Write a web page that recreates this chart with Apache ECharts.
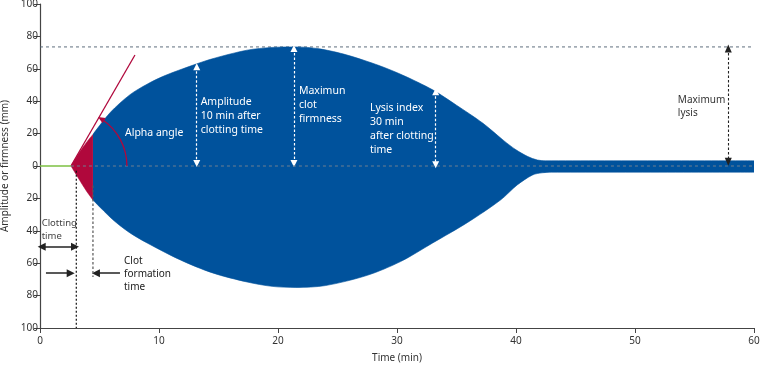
<!DOCTYPE html>
<html>
<head>
<meta charset="utf-8">
<script src="https://cdn.jsdelivr.net/npm/echarts@6/dist/echarts.min.js"></script>
<style>html,body{margin:0;padding:0;background:#fff}#c{width:760px;height:365px}</style>
</head>
<body>
<div id="c"></div>
<script>
// ---- data ----
const xTicks = [0, 10, 20, 30, 40, 50, 60];
const yTicks = [-100, -80, -60, -40, -20, 0, 20, 40, 60, 80, 100];
const baseline = [[0, 0], [2.6, 0]];
const redUpper = [[2.6, 0], [3.1, 6], [3.6, 11.5], [4.0, 15.5], [4.45, 19.5]];
const redLower = [[2.6, 0], [3.1, -6], [3.6, -12], [4.0, -16.5], [4.45, -21]];
const upperCurve = [[4.45, 19.5], [5.9, 33], [7.56, 44], [9, 50.5], [10.4, 55.5], [12, 60], [14.4, 66], [17.4, 71.5], [19.5, 73.2], [21.5, 73.5], [23.5, 72.3], [25.8, 68.5], [28.5, 62], [30.5, 56], [33, 47], [35, 37.5], [37.2, 26.5], [39, 15.5], [40, 10], [41, 5.8], [41.8, 3.7], [42.5, 3.2], [60, 3.2]];
const lowerCurve = [[4.45, -21], [6.1, -33], [7.5, -41], [9, -47.5], [11.8, -58], [14.5, -66], [17.4, -71.6], [19.5, -74.3], [21.5, -75], [24, -73.8], [27.5, -67.5], [30.3, -59], [33, -47.5], [35.9, -35], [38.7, -21], [40.1, -11.7], [41.4, -5.5], [42.2, -4.2], [43, -3.8], [60, -3.8]];
const alphaLine = [[2.6, 0], [7.98, 68.5]];
const alphaAngleDeg = 59;
const maxLevel = 73.5;
const maxLine = [[0, maxLevel], [60, maxLevel]];
const zeroLine = [[2.6, 0], [60, 0]];
const clotTimeLine = [[3.05, -3], [3.05, -100]];
const cftLine = [[4.45, -12], [4.45, -68.5]];
// white dashed double arrows: [x, yTop, yBottom]
const whiteArrows = [[13.17, 61.3, 1.6], [21.34, 72.6, 1.6], [33.25, 45.9, 0.8]];
const lysisArrow = [57.84, 72.6, 2.7];
const clottingArrow = [[0.14, -49.8], [2.94, -49.8]];
const rightArrow = [[0.5, -66.2], [2.58, -66.2]];
const leftArrow = [[6.72, -66.2], [4.7, -66.2]];
// text annotations
const labelText = ['Alpha angle', 'Amplitude\n10 min after\nclotting time', 'Maximun\nclot\nfirmness', 'Lysis index\n30 min\nafter clotting\ntime', 'Maximum\nlysis', 'Clot\nformation\ntime', 'Clotting\ntime'];
const labelX = [7.14, 13.5, 21.76, 27.73, 53.6, 7.06, 0.14];
const labelY = [20.4, 31.1, 37.7, 22.7, 36.6, -66.7, -39.3];
const labelColor = ['#ffffff', '#ffffff', '#ffffff', '#ffffff', '#333333', '#222222', '#444444'];
const labelSize = [10.5, 10.5, 10.5, 10.5, 10, 10, 9.5];

const BLUE = '#00529c';
const RED = '#b0083c';
const FONT = "'Noto Sans', sans-serif";

const chart = echarts.init(document.getElementById('c'), null, {renderer: 'canvas'});

function lineSeries(data, color, width, type, z, extra) {
  return Object.assign({
    type: 'line', data: data, symbol: 'none', silent: true, z: z,
    lineStyle: {color: color, width: width, type: type}
  }, extra || {});
}

function areaSeries(data, color, z) {
  return {
    type: 'line', data: data, symbol: 'none', silent: true, z: z,
    smooth: 0.3,
    lineStyle: {width: 0.6, color: color},
    areaStyle: {color: color, opacity: 1}
  };
}

const mlData = [];
whiteArrows.forEach(a => {
  mlData.push([
    {coord: [a[0], a[1]], symbol: 'triangle', symbolSize: [7, 7], lineStyle: {color: '#fff', width: 1.2, type: [2.5, 2]}, itemStyle: {color: '#fff'}},
    {coord: [a[0], a[2]], symbol: 'triangle', symbolSize: [7, 7]}
  ]);
});
mlData.push([
  {coord: [lysisArrow[0], lysisArrow[1]], symbol: 'triangle', symbolSize: [7, 8], lineStyle: {color: '#222', width: 1.1, type: [2.5, 2]}, itemStyle: {color: '#222'}},
  {coord: [lysisArrow[0], lysisArrow[2]], symbol: 'triangle', symbolSize: [7, 8]}
]);
mlData.push([
  {coord: clottingArrow[0], symbol: 'triangle', symbolSize: [8, 8], lineStyle: {color: '#222', width: 1.5, type: 'solid'}, itemStyle: {color: '#222'}},
  {coord: clottingArrow[1], symbol: 'triangle', symbolSize: [8, 8]}
]);
mlData.push([
  {coord: rightArrow[0], symbol: 'none', lineStyle: {color: '#222', width: 1.5, type: 'solid'}, itemStyle: {color: '#222'}},
  {coord: rightArrow[1], symbol: 'triangle', symbolSize: [8, 8]}
]);
mlData.push([
  {coord: leftArrow[0], symbol: 'none', lineStyle: {color: '#222', width: 1.5, type: 'solid'}, itemStyle: {color: '#222'}},
  {coord: leftArrow[1], symbol: 'triangle', symbolSize: [8, 8]}
]);

const option = {
  animation: false,
  grid: {left: 40, right: 6, top: 4, bottom: 37, containLabel: false, outerBoundsMode: 'none'},
  xAxis: {
    type: 'value', min: xTicks[0], max: xTicks[xTicks.length - 1], interval: 10,
    name: 'Time (min)', nameLocation: 'middle', nameGap: 25,
    nameTextStyle: {fontFamily: FONT, fontSize: 10, color: '#333'},
    axisLine: {onZero: false, lineStyle: {color: '#444', width: 1.2}},
    axisTick: {show: true, length: 5, lineStyle: {color: '#444'}},
    axisLabel: {fontFamily: FONT, fontSize: 10, color: '#333', margin: 8},
    splitLine: {show: false}
  },
  yAxis: {
    type: 'value', min: yTicks[0], max: yTicks[yTicks.length - 1], interval: 20,
    name: 'Amplitude or firmness (mm)', nameLocation: 'middle', nameGap: 26, nameRotate: 90,
    nameTextStyle: {fontFamily: FONT, fontSize: 10, color: '#333'},
    axisLine: {show: true, lineStyle: {color: '#444', width: 1.2}},
    axisTick: {show: true, length: 6, lineStyle: {color: '#444'}},
    axisLabel: {fontFamily: FONT, fontSize: 10, color: '#333', margin: 2, formatter: v => String(Math.abs(v))},
    splitLine: {show: false}
  },
  series: [
    lineSeries(maxLine, '#4d5f70', 0.9, [3, 3], 1),
    lineSeries(alphaLine, RED, 1.3, 'solid', 2),
    areaSeries(upperCurve, BLUE, 3),
    areaSeries(lowerCurve, BLUE, 3),
    {type: 'line', data: redUpper, symbol: 'none', silent: true, z: 4, smooth: 0.2, lineStyle: {width: 0.5, color: RED}, areaStyle: {color: RED, opacity: 1}},
    {type: 'line', data: redLower, symbol: 'none', silent: true, z: 4, smooth: 0.2, lineStyle: {width: 0.5, color: RED}, areaStyle: {color: RED, opacity: 1}},
    lineSeries(baseline, '#7dc142', 1.5, 'solid', 5),
    lineSeries(zeroLine, '#6d7f90', 1, [3, 3], 6),
    lineSeries(clotTimeLine, '#111', 1.2, [2, 2], 6),
    lineSeries(cftLine, '#555', 1.2, [2.5, 2], 6),
    {
      type: 'custom', silent: true, z: 7,
      data: [[alphaLine[0][0], alphaLine[0][1]]],
      renderItem: function (params, api) {
        const c = api.coord([api.value(0), api.value(1)]);
        const r = 56;
        const a = alphaAngleDeg * Math.PI / 180;
        const px = c[0] + r * Math.cos(a), py = c[1] - r * Math.sin(a);
        const dx = -Math.sin(a), dy = -Math.cos(a);
        const nx = -dy, ny = dx;
        return {
          type: 'group',
          children: [
            {type: 'arc', shape: {cx: c[0], cy: c[1], r: r, startAngle: -a + 0.06, endAngle: 0, clockwise: true}, style: {stroke: RED, lineWidth: 1.3, fill: null}},
            {type: 'polygon', shape: {points: [[px + dx * 2, py + dy * 2], [px - dx * 5 + nx * 3, py - dy * 5 + ny * 3], [px - dx * 5 - nx * 3, py - dy * 5 - ny * 3]]}, style: {fill: RED}}
          ]
        };
      }
    },
    {
      type: 'line', data: [], silent: true, z: 8,
      markLine: {silent: true, animation: false, label: {show: false}, data: mlData}
    },
    {
      type: 'custom', silent: true, z: 9,
      data: labelX.map((x, i) => [x, labelY[i]]),
      renderItem: function (params, api) {
        const i = params.dataIndex;
        const p = api.coord([api.value(0), api.value(1)]);
        return {
          type: 'text', x: p[0], y: p[1],
          style: {text: labelText[i], fill: labelColor[i], fontSize: labelSize[i], fontFamily: FONT, align: 'left', verticalAlign: 'middle', lineHeight: labelSize[i] * 1.33}
        };
      }
    }
  ]
};
chart.setOption(option);
</script>
</body>
</html>
